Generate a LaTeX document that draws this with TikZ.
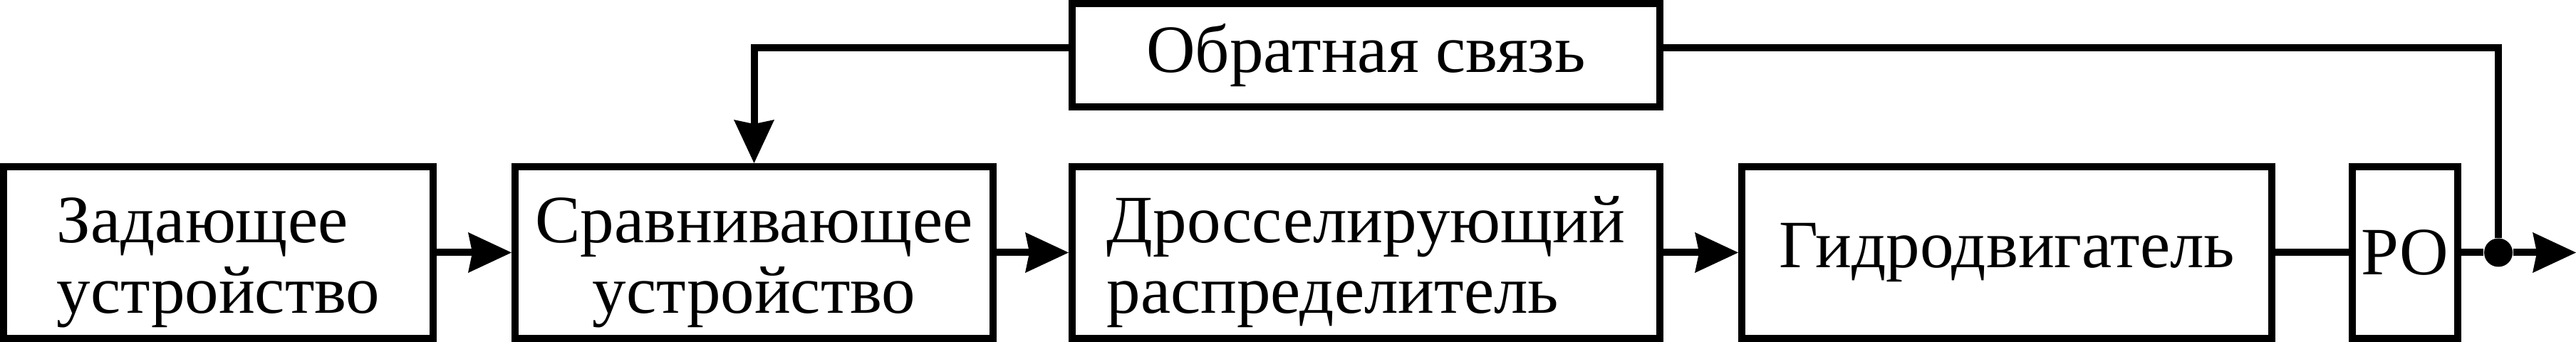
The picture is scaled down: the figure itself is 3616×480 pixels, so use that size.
\documentclass[tikz,border=0pt]{standalone}
\usepackage{fontspec}
\setmainfont{Liberation Serif}
\usepackage{tikz}
\usetikzlibrary{calc,arrows.meta}
\definecolor{ink}{HTML}{000000}
\definecolor{bg}{HTML}{FFFFFF}
\tikzset{
  base/.style={draw=ink, line width=2.5pt},
  blk/.style={base, rectangle, fill=bg, inner sep=0pt, minimum height=60.25pt,
    font=\fontsize{23.75}{24.75}\selectfont},
  arr/.style={base, -{Stealth[length=15.25pt,width=14.25pt,inset=1.5pt,line width=0pt]}},
  dot/.style={circle, fill=ink, inner sep=0pt, minimum size=10pt},
}
% two lines, first baseline a little above the box centre
\newcommand{\blktext}[3]{\raisebox{3.375pt}[0pt][0pt]{\begin{tabular}[t]{@{}#1@{}}#2\\#3\end{tabular}}}
\begin{document}
\begin{tikzpicture}[x=0.25pt,y=-0.25pt]
  \useasboundingbox (0,0) rectangle (3616,480);

  \node[blk, minimum width=150.75pt] (zad) at (306.5,354.5) {\blktext{l}{Задающее}{устройство}};
  \node[blk, minimum width=167.75pt] (srv) at (1058.5,354.5) {\blktext{c}{Сравнивающее}{устройство}};
  \node[blk, minimum width=206.25pt] (dros) at (1917.5,354.5) {\blktext{l}{Дросселирующий}{распределитель}};
  \node[blk, minimum width=186pt] (gidr) at (2817,354.5) {Гидродвигатель};
  \node[blk, minimum width=37pt] (ro) at (3376,354.5) {РО};
  \node[blk, minimum width=206.25pt, minimum height=36.25pt] (fb) at (1917.5,77.5) {Обратная связь};

  \node[dot] (tap) at (3507,354.5) {};
  \coordinate (out) at (3616,354.5);

  \draw[arr] (zad) -- (srv);
  \draw[arr] (srv) -- (dros);
  \draw[arr] (dros) -- (gidr);
  \draw[base] (gidr) -- (ro);
  \draw[base] (ro) -- (tap);
  \draw[arr] (tap) -- (out);

  % feedback loop
  \draw[arr] ([yshift=2.6pt]fb.west) -| (srv.north);
  \draw[base] ([yshift=2.6pt]fb.east) -| (tap);
\end{tikzpicture}
\end{document}
